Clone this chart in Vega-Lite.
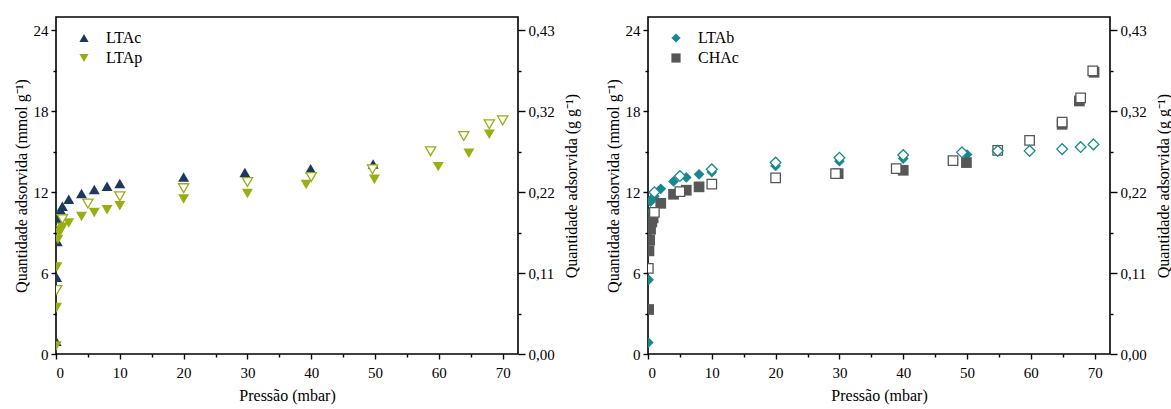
{
  "$schema": "https://vega.github.io/schema/vega-lite/v6.json",
  "padding": {"left": 12, "top": 16, "right": 0, "bottom": 1},
  "background": "white",
  "config": {
    "font": "Liberation Serif",
    "view": {"stroke": "black", "strokeWidth": 1.6},
    "style": {"guide-label": {"font": "Liberation Serif"}, "guide-title": {"font": "Liberation Serif"}},
    "axis": {"labelFont": "Liberation Serif", "titleFont": "Liberation Serif", "labelFontSize": 15, "titleFontSize": 16, "titleFontWeight": "normal", "labelColor": "black", "titleColor": "black", "tickColor": "black", "tickWidth": 1.4, "domain": false, "grid": false, "labelPadding": 3},
    "legend": {"labelFont": "Liberation Serif", "labelFontSize": 16, "labelColor": "black"}
  },
  "resolve": {"scale": {"color": "independent", "shape": "independent"}, "legend": {"color": "independent", "shape": "independent"}},
  "datasets": {
    "left": [
      {"p": 0.03, "q": 0.95, "s": "LTAc", "b": "ads"},
      {"p": 0.1, "q": 5.7, "s": "LTAc", "b": "ads"},
      {"p": 0.2, "q": 8.35, "s": "LTAc", "b": "ads"},
      {"p": 0.4, "q": 10.05, "s": "LTAc", "b": "ads"},
      {"p": 0.75, "q": 10.67, "s": "LTAc", "b": "ads"},
      {"p": 1.0, "q": 10.96, "s": "LTAc", "b": "ads"},
      {"p": 2, "q": 11.48, "s": "LTAc", "b": "ads"},
      {"p": 4, "q": 11.9, "s": "LTAc", "b": "ads"},
      {"p": 6, "q": 12.2, "s": "LTAc", "b": "ads"},
      {"p": 8, "q": 12.45, "s": "LTAc", "b": "ads"},
      {"p": 10, "q": 12.64, "s": "LTAc", "b": "ads"},
      {"p": 20, "q": 13.13, "s": "LTAc", "b": "ads"},
      {"p": 29.6, "q": 13.46, "s": "LTAc", "b": "ads"},
      {"p": 39.9, "q": 13.75, "s": "LTAc", "b": "ads"},
      {"p": 49.7, "q": 14.1, "s": "LTAc", "b": "ads"},
      {"p": 0.03, "q": 0.6, "s": "LTAp", "b": "ads"},
      {"p": 0.1, "q": 3.45, "s": "LTAp", "b": "ads"},
      {"p": 0.15, "q": 6.45, "s": "LTAp", "b": "ads"},
      {"p": 0.3, "q": 8.5, "s": "LTAp", "b": "ads"},
      {"p": 0.5, "q": 9.0, "s": "LTAp", "b": "ads"},
      {"p": 0.8, "q": 9.2, "s": "LTAp", "b": "ads"},
      {"p": 1.0, "q": 9.4, "s": "LTAp", "b": "ads"},
      {"p": 2, "q": 9.72, "s": "LTAp", "b": "ads"},
      {"p": 4, "q": 10.2, "s": "LTAp", "b": "ads"},
      {"p": 6, "q": 10.5, "s": "LTAp", "b": "ads"},
      {"p": 8, "q": 10.7, "s": "LTAp", "b": "ads"},
      {"p": 10, "q": 11.0, "s": "LTAp", "b": "ads"},
      {"p": 20, "q": 11.5, "s": "LTAp", "b": "ads"},
      {"p": 30, "q": 11.9, "s": "LTAp", "b": "ads"},
      {"p": 39.2, "q": 12.57, "s": "LTAp", "b": "ads"},
      {"p": 49.9, "q": 12.96, "s": "LTAp", "b": "ads"},
      {"p": 59.9, "q": 13.9, "s": "LTAp", "b": "ads"},
      {"p": 64.7, "q": 14.9, "s": "LTAp", "b": "ads"},
      {"p": 67.9, "q": 16.3, "s": "LTAp", "b": "ads"},
      {"p": 0.1, "q": 4.74, "s": "LTAp", "b": "des"},
      {"p": 1.0, "q": 10.0, "s": "LTAp", "b": "des"},
      {"p": 5.0, "q": 11.16, "s": "LTAp", "b": "des"},
      {"p": 10, "q": 11.7, "s": "LTAp", "b": "des"},
      {"p": 20, "q": 12.3, "s": "LTAp", "b": "des"},
      {"p": 30, "q": 12.76, "s": "LTAp", "b": "des"},
      {"p": 40, "q": 13.13, "s": "LTAp", "b": "des"},
      {"p": 49.6, "q": 13.7, "s": "LTAp", "b": "des"},
      {"p": 58.7, "q": 15.04, "s": "LTAp", "b": "des"},
      {"p": 63.9, "q": 16.17, "s": "LTAp", "b": "des"},
      {"p": 67.9, "q": 17.04, "s": "LTAp", "b": "des"},
      {"p": 70, "q": 17.33, "s": "LTAp", "b": "des"}
    ],
    "right": [
      {"p": 0.05, "q": 0.85, "s": "LTAb", "b": "ads"},
      {"p": 0.1, "q": 5.5, "s": "LTAb", "b": "ads"},
      {"p": 0.2, "q": 8.65, "s": "LTAb", "b": "ads"},
      {"p": 0.15, "q": 10.4, "s": "LTAb", "b": "ads"},
      {"p": 0.4, "q": 11.3, "s": "LTAb", "b": "ads"},
      {"p": 0.6, "q": 11.5, "s": "LTAb", "b": "ads"},
      {"p": 1.0, "q": 11.7, "s": "LTAb", "b": "ads"},
      {"p": 2, "q": 12.25, "s": "LTAb", "b": "ads"},
      {"p": 4, "q": 12.8, "s": "LTAb", "b": "ads"},
      {"p": 6, "q": 13.1, "s": "LTAb", "b": "ads"},
      {"p": 8, "q": 13.33, "s": "LTAb", "b": "ads"},
      {"p": 10, "q": 13.5, "s": "LTAb", "b": "ads"},
      {"p": 20, "q": 13.95, "s": "LTAb", "b": "ads"},
      {"p": 30, "q": 14.3, "s": "LTAb", "b": "ads"},
      {"p": 40, "q": 14.5, "s": "LTAb", "b": "ads"},
      {"p": 50, "q": 14.8, "s": "LTAb", "b": "ads"},
      {"p": 0.1, "q": 3.3, "s": "CHAc", "b": "ads"},
      {"p": 0.15, "q": 7.65, "s": "CHAc", "b": "ads"},
      {"p": 0.25, "q": 8.44, "s": "CHAc", "b": "ads"},
      {"p": 0.4, "q": 9.25, "s": "CHAc", "b": "ads"},
      {"p": 0.6, "q": 9.8, "s": "CHAc", "b": "ads"},
      {"p": 0.8, "q": 10.1, "s": "CHAc", "b": "ads"},
      {"p": 2, "q": 11.18, "s": "CHAc", "b": "ads"},
      {"p": 4, "q": 11.85, "s": "CHAc", "b": "ads"},
      {"p": 6, "q": 12.15, "s": "CHAc", "b": "ads"},
      {"p": 8, "q": 12.4, "s": "CHAc", "b": "ads"},
      {"p": 29.8, "q": 13.38, "s": "CHAc", "b": "ads"},
      {"p": 40, "q": 13.63, "s": "CHAc", "b": "ads"},
      {"p": 49.9, "q": 14.2, "s": "CHAc", "b": "ads"},
      {"p": 64.9, "q": 17.04, "s": "CHAc", "b": "ads"},
      {"p": 67.6, "q": 18.77, "s": "CHAc", "b": "ads"},
      {"p": 69.9, "q": 20.9, "s": "CHAc", "b": "ads"},
      {"p": 1.0, "q": 12.0, "s": "LTAb", "b": "des"},
      {"p": 5, "q": 13.2, "s": "LTAb", "b": "des"},
      {"p": 10, "q": 13.7, "s": "LTAb", "b": "des"},
      {"p": 20, "q": 14.2, "s": "LTAb", "b": "des"},
      {"p": 30, "q": 14.56, "s": "LTAb", "b": "des"},
      {"p": 40, "q": 14.76, "s": "LTAb", "b": "des"},
      {"p": 49.2, "q": 14.96, "s": "LTAb", "b": "des"},
      {"p": 54.8, "q": 15.07, "s": "LTAb", "b": "des"},
      {"p": 59.8, "q": 15.07, "s": "LTAb", "b": "des"},
      {"p": 64.9, "q": 15.2, "s": "LTAb", "b": "des"},
      {"p": 67.8, "q": 15.35, "s": "LTAb", "b": "des"},
      {"p": 69.8, "q": 15.55, "s": "LTAb", "b": "des"},
      {"p": 0.05, "q": 6.35, "s": "CHAc", "b": "des"},
      {"p": 1.0, "q": 10.5, "s": "CHAc", "b": "des"},
      {"p": 5, "q": 12.05, "s": "CHAc", "b": "des"},
      {"p": 10, "q": 12.6, "s": "CHAc", "b": "des"},
      {"p": 20, "q": 13.07, "s": "CHAc", "b": "des"},
      {"p": 29.4, "q": 13.38, "s": "CHAc", "b": "des"},
      {"p": 38.9, "q": 13.75, "s": "CHAc", "b": "des"},
      {"p": 47.8, "q": 14.34, "s": "CHAc", "b": "des"},
      {"p": 54.8, "q": 15.1, "s": "CHAc", "b": "des"},
      {"p": 59.8, "q": 15.85, "s": "CHAc", "b": "des"},
      {"p": 64.9, "q": 17.2, "s": "CHAc", "b": "des"},
      {"p": 67.8, "q": 19.0, "s": "CHAc", "b": "des"},
      {"p": 69.7, "q": 21.0, "s": "CHAc", "b": "des"}
    ]
  },
  "bounds": "flush",
  "spacing": 130,
  "hconcat": [
    {
      "width": 462,
      "height": 337,
      "data": {"name": "left"},
      "encoding": {
        "x": {"field": "p", "type": "quantitative", "scale": {"domain": [0, 72.4], "nice": false, "zero": false},
          "axis": {"title": "Pressão (mbar)", "labelFont": "Liberation Serif", "titleFont": "Liberation Serif", "values": [0, 5, 10, 15, 20, 25, 30, 35, 40, 45, 50, 55, 60, 65, 70], "labelExpr": "datum.value % 10 === 0 ? datum.label : ''", "tickSize": {"condition": {"test": "datum.value % 10 === 0", "value": 5}, "value": 3}, "labelPadding": 6, "titlePadding": 7}}
      },
      "resolve": {"scale": {"y": "shared"}, "axis": {"y": "independent"}},
      "layer": [
        {
          "transform": [{"filter": "datum.b === 'ads'"}],
          "mark": {"type": "point", "filled": true, "opacity": 1, "size": 120, "clip": true},
          "encoding": {
            "y": {"field": "q", "type": "quantitative", "scale": {"domain": [0, 25], "nice": false},
              "axis": {"orient": "left", "labelFont": "Liberation Serif", "titleFont": "Liberation Serif", "title": "Quantidade adsorvida (mmol g⁻¹)", "values": [0, 3, 6, 9, 12, 15, 18, 21, 24], "labelExpr": "datum.value % 6 === 0 ? datum.label : ''", "tickSize": {"condition": {"test": "datum.value % 6 === 0", "value": 5}, "value": 3}, "titlePadding": 4}},
            "color": {"field": "s", "type": "nominal", "scale": {"domain": ["LTAc", "LTAp"], "range": ["#1d3a5e", "#9aae14"]},
              "legend": {"orient": "none", "legendX": 20, "legendY": 13, "title": null, "symbolSize": 85, "rowPadding": 4, "labelOffset": 14}},
            "shape": {"field": "s", "type": "nominal", "scale": {"domain": ["LTAc", "LTAp"], "range": ["triangle-up", "triangle-down"]},
              "legend": {"orient": "none", "legendX": 20, "legendY": 13, "title": null, "symbolSize": 85, "rowPadding": 4, "labelOffset": 14}}
          }
        },
        {
          "transform": [{"filter": "datum.b === 'des'"}],
          "mark": {"type": "point", "filled": true, "fill": "white", "stroke": "#9aae14", "strokeWidth": 1.3, "shape": "triangle-down", "opacity": 1, "size": 105, "clip": true},
          "encoding": {
            "y": {"field": "q", "type": "quantitative",
              "axis": {"orient": "right", "labelFont": "Liberation Serif", "titleFont": "Liberation Serif", "title": "Quantidade adsorvida (g g⁻¹)", "titleAngle": 270, "titleBaseline": "top", "values": [0, 3, 6, 9, 12, 15, 18, 21, 24], "labelExpr": "datum.value % 6 === 0 ? replace(format(datum.value * 0.018, '.2f'), '.', ',') : ''", "tickSize": {"condition": {"test": "datum.value % 6 === 0", "value": 7}, "value": 3}, "titlePadding": 9}}
          }
        }
      ]
    },
    {
      "width": 462,
      "height": 337,
      "data": {"name": "right"},
      "encoding": {
        "x": {"field": "p", "type": "quantitative", "scale": {"domain": [0, 72.4], "nice": false, "zero": false},
          "axis": {"title": "Pressão (mbar)", "labelFont": "Liberation Serif", "titleFont": "Liberation Serif", "values": [0, 5, 10, 15, 20, 25, 30, 35, 40, 45, 50, 55, 60, 65, 70], "labelExpr": "datum.value % 10 === 0 ? datum.label : ''", "tickSize": {"condition": {"test": "datum.value % 10 === 0", "value": 5}, "value": 3}, "labelPadding": 6, "titlePadding": 7}}
      },
      "resolve": {"scale": {"y": "shared"}, "axis": {"y": "independent"}},
      "layer": [
        {
          "transform": [{"filter": "datum.b === 'ads'"}],
          "mark": {"type": "point", "filled": true, "opacity": 1, "size": 115, "clip": true},
          "encoding": {
            "y": {"field": "q", "type": "quantitative", "scale": {"domain": [0, 25], "nice": false},
              "axis": {"orient": "left", "labelFont": "Liberation Serif", "titleFont": "Liberation Serif", "title": "Quantidade adsorvida (mmol g⁻¹)", "values": [0, 3, 6, 9, 12, 15, 18, 21, 24], "labelExpr": "datum.value % 6 === 0 ? datum.label : ''", "tickSize": {"condition": {"test": "datum.value % 6 === 0", "value": 5}, "value": 3}, "titlePadding": 4}},
            "color": {"field": "s", "type": "nominal", "scale": {"domain": ["LTAb", "CHAc"], "range": ["#16898e", "#575757"]},
              "legend": {"orient": "none", "legendX": 20, "legendY": 13, "title": null, "symbolSize": 85, "rowPadding": 4, "labelOffset": 14}},
            "shape": {"field": "s", "type": "nominal", "scale": {"domain": ["LTAb", "CHAc"], "range": ["diamond", "square"]},
              "legend": {"orient": "none", "legendX": 20, "legendY": 13, "title": null, "symbolSize": 85, "rowPadding": 4, "labelOffset": 14}}
          }
        },
        {
          "transform": [{"filter": "datum.b === 'des' && datum.s === 'CHAc'"}],
          "mark": {"type": "point", "filled": true, "fill": "white", "stroke": "#575757", "strokeWidth": 1.3, "shape": "square", "opacity": 1, "size": 90, "clip": true},
          "encoding": {
            "y": {"field": "q", "type": "quantitative",
              "axis": {"orient": "right", "labelFont": "Liberation Serif", "titleFont": "Liberation Serif", "title": "Quantidade adsorvida (g g⁻¹)", "titleAngle": 270, "titleBaseline": "top", "values": [0, 3, 6, 9, 12, 15, 18, 21, 24], "labelExpr": "datum.value % 6 === 0 ? replace(format(datum.value * 0.018, '.2f'), '.', ',') : ''", "tickSize": {"condition": {"test": "datum.value % 6 === 0", "value": 7}, "value": 3}, "titlePadding": 9}}
          }
        },
        {
          "transform": [{"filter": "datum.b === 'des' && datum.s === 'LTAb'"}],
          "mark": {"type": "point", "filled": true, "fill": "white", "stroke": "#16898e", "strokeWidth": 1.3, "shape": "diamond", "opacity": 1, "size": 115, "clip": true},
          "encoding": {
            "y": {"field": "q", "type": "quantitative", "axis": null}
          }
        }
      ]
    }
  ]
}
